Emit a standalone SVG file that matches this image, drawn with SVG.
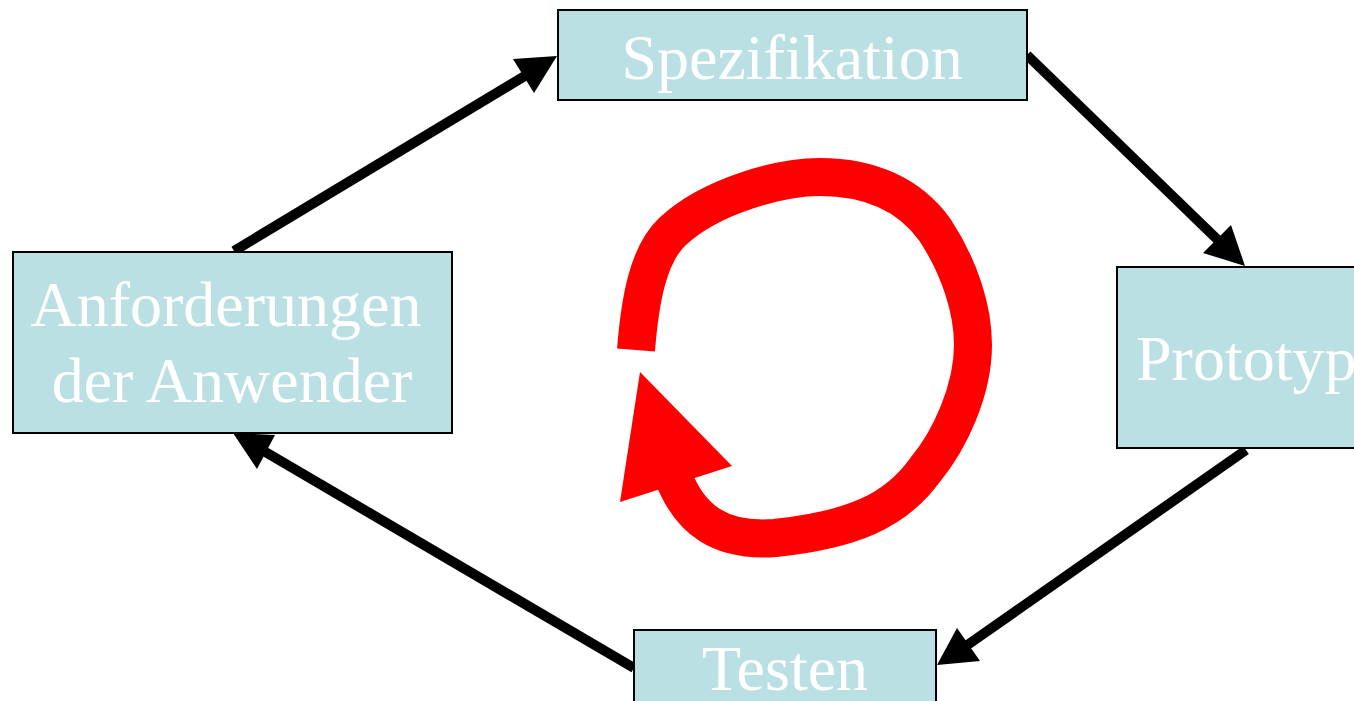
<svg xmlns="http://www.w3.org/2000/svg" width="1354" height="701" viewBox="0 0 1354 701">
  <style>
    .box { fill: #BBE0E3; stroke: #000; stroke-width: 2; }
    .label { font-family: "Liberation Serif", "Times New Roman", serif; font-size: 64px; fill: #fff; text-anchor: middle; }
    .conn { stroke: #000; stroke-width: 10; fill: none; }
    .head { fill: #000; }
  </style>
  <rect width="1354" height="701" fill="#fff"/>

  <g id="connectors">
    <!-- Anforderungen -> Spezifikation -->
    <line class="conn" x1="234" y1="251" x2="528" y2="74"/>
    <polygon class="head" points="557,56 513,59 534,93"/>
    <!-- Spezifikation -> Prototyp -->
    <line class="conn" x1="1027" y1="55" x2="1222" y2="244"/>
    <polygon class="head" points="1245,266 1231,225 1203,253"/>
    <!-- Prototyp -> Testen -->
    <line class="conn" x1="1246" y1="450" x2="966" y2="646"/>
    <polygon class="head" points="937,665 957,628 980,661"/>
    <!-- Testen -> Anforderungen -->
    <line class="conn" x1="634" y1="668" x2="262" y2="450"/>
    <polygon class="head" points="233,433 275,435 257,469"/>
  </g>

  <g id="cycle">
    <path d="M636,350 C640,300 648,255 672,232 C710,196 780,177 820,177 C870,177 910,195 935,230 C960,268 973,310 973,345 C973,390 950,440 925,470 C895,512 850,530 775,538 C720,542 690,520 673,476" fill="none" stroke="#FF0000" stroke-width="38"/>
    <polygon points="640,372 620,502 732,466" fill="#FF0000"/>
  </g>

  <g id="spezifikation">
    <rect class="box" x="558" y="10" width="469" height="90"/>
    <text class="label" x="792" y="79">Spezifikation</text>
  </g>

  <g id="anforderungen">
    <rect class="box" x="13" y="252" width="439" height="181"/>
    <text class="label" x="226" y="326">Anforderungen</text>
    <text class="label" x="232" y="402">der Anwender</text>
  </g>

  <g id="prototyp">
    <rect class="box" x="1117" y="267" width="250" height="181"/>
    <text class="label" x="1136" y="380" style="text-anchor:start">Prototyp</text>
  </g>

  <g id="testen">
    <rect class="box" x="634" y="630" width="302" height="90"/>
    <text class="label" x="785" y="690">Testen</text>
  </g>
</svg>
